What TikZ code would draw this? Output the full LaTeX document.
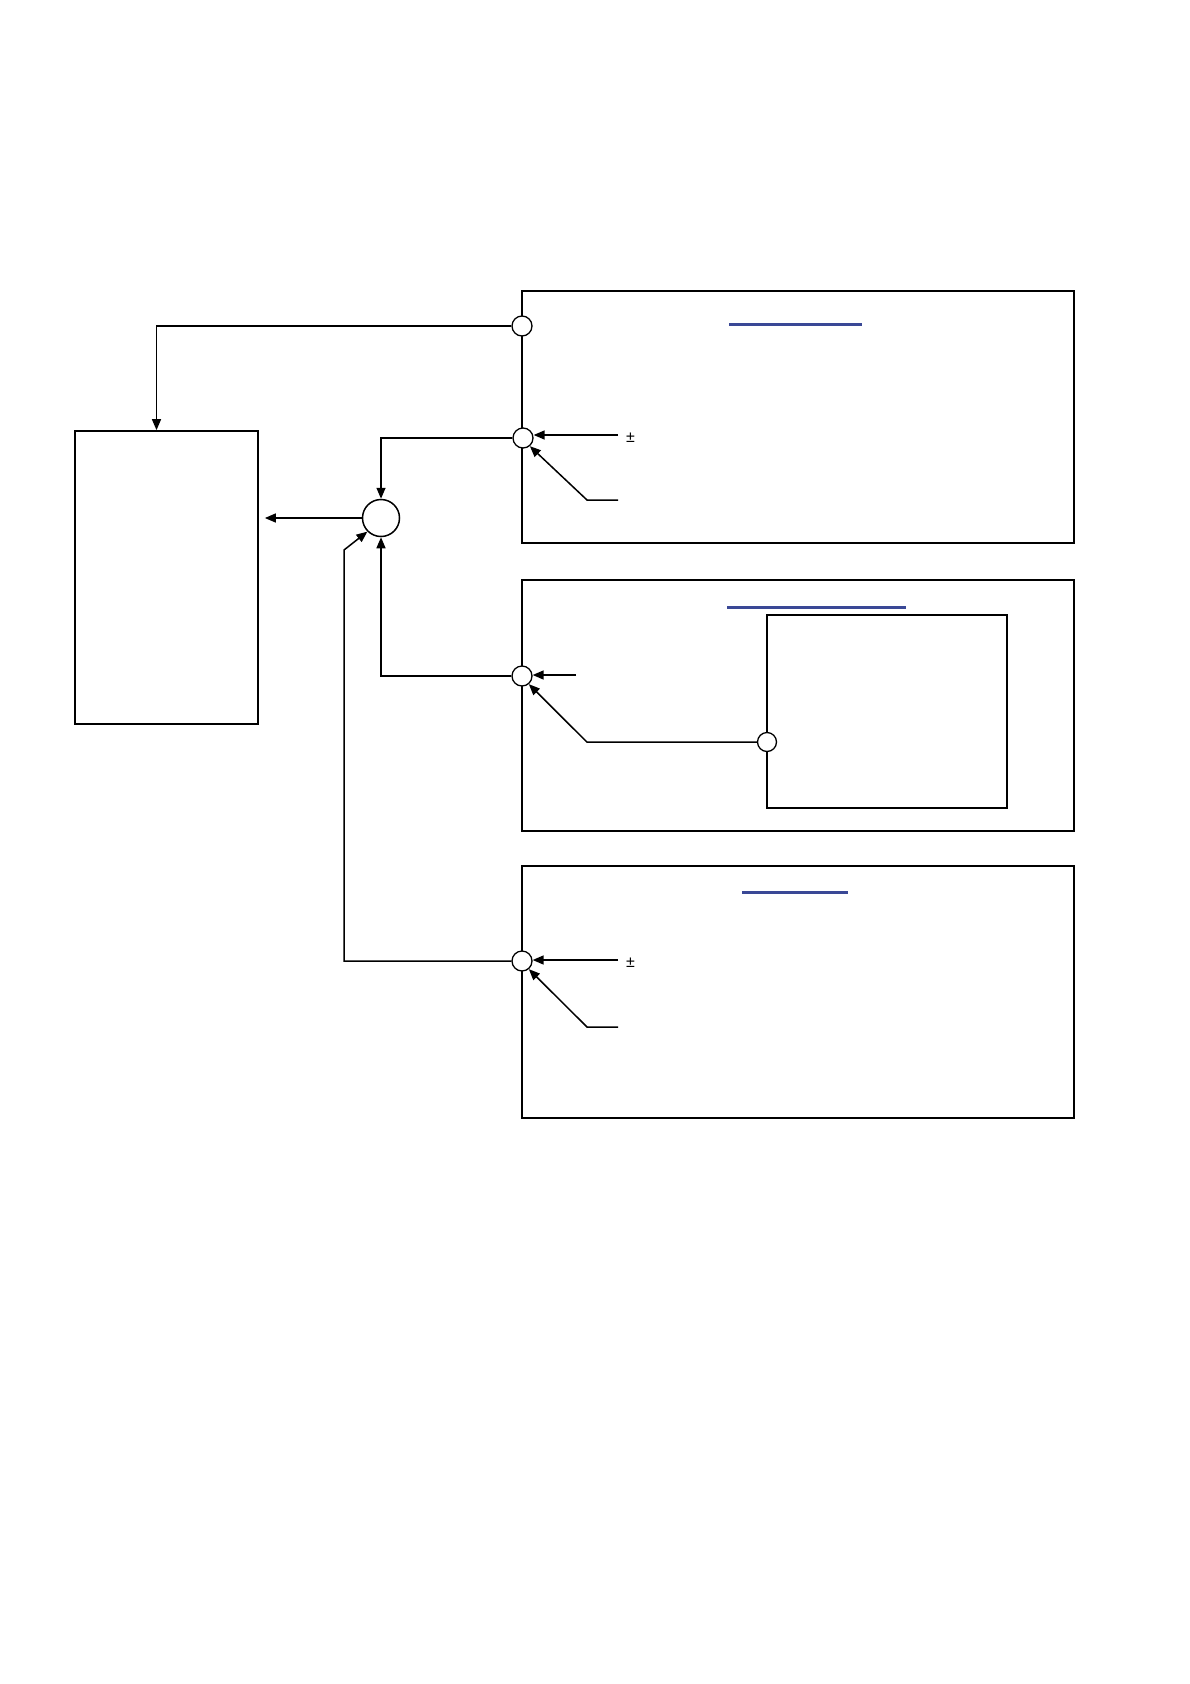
\documentclass[tikz,border=0pt]{standalone}
\usepackage{fontspec}
\newfontfamily\labelfont{Liberation Sans}
\usetikzlibrary{arrows.meta,positioning,calc}
\definecolor{linkblue}{RGB}{58,72,150}
\tikzset{
  blockbox/.style={draw, line width=1.7pt, rectangle, inner sep=0pt},
  port/.style={draw, circle, fill=white, line width=1.3pt, inner sep=0pt, minimum size=20pt},
  sumjunction/.style={draw, circle, fill=white, line width=1.5pt, inner sep=0pt, minimum size=37pt},
  sigarrow/.style={-{Triangle[length=11pt,width=9pt]}, line width=1.5pt},
  titlebar/.style={linkblue, line width=3pt},
  pmlabel/.style={font=\labelfont\fontsize{16}{18}\selectfont, inner sep=0pt}
}
\begin{document}
\begin{tikzpicture}[x=1pt, y=-1pt, line cap=butt, line join=miter]
  \useasboundingbox (0,0) rectangle (1190,1684);

  % Blocks
  \node[blockbox, minimum width=183pt, minimum height=293pt] (tgt) at (166.5, 577.5) {};
  \node[blockbox, minimum width=552pt, minimum height=252pt] (modA) at (798, 417) {};
  \node[blockbox, minimum width=552pt, minimum height=251pt] (modB) at (798, 705.5) {};
  \node[blockbox, minimum width=552pt, minimum height=252pt] (modC) at (798, 992) {};
  \node[blockbox, line width=1.3pt, minimum width=240pt, minimum height=193pt] (inner) at (887, 711.5) {};

  % Title bars
  \draw[titlebar] (729, 324) -- (862, 324);
  \draw[titlebar] (727, 607) -- (906, 607);
  \draw[titlebar] (742, 892) -- (848, 892);

  % Ports and summing junction
  \node[port] (pA1) at (522, 326) {};
  \node[port] (pA2) at (523, 438) {};
  \node[port] (pB) at (522, 676) {};
  \node[port] (pC) at (522, 961) {};
  \node[port, minimum size=19pt] (q) at (767, 742) {};
  \node[sumjunction] (sum) at (381, 518) {};

  % Free ends of the input lines
  \coordinate (uA) at (618, 435);
  \coordinate (wA) at (618, 500);
  \coordinate (uB) at (576, 675);
  \coordinate (uC) at (618, 960);
  \coordinate (wC) at (618, 1027);
  \coordinate (pCbend) at (344, 550);

  % Connections to the target block
  \draw[sigarrow] (pA1.west) -| ([xshift=-10pt]tgt.north);
  \draw[sigarrow, shorten >=6pt] (sum.west) -- (sum.west -| tgt.east);
  \draw[sigarrow] (pA2.west) -| (sum.north);
  \draw[sigarrow] (pB.west) -| (sum.south);
  \draw[sigarrow] (pC.west) -| (pCbend) -- (sum.225);

  % Inputs of the ports
  \draw[sigarrow] (uA) -- (uA -| pA2.east);
  \draw[sigarrow] (wA) -- ++(-31, 0) -- (pA2.-50);
  \draw[sigarrow] (uB) -- (uB -| pB.east);
  \draw[sigarrow] (q.west) -- ++(-170, 0) -- (pB.-50);
  \draw[sigarrow] (uC) -- (uC -| pC.east);
  \draw[sigarrow] (wC) -- ++(-31, 0) -- (pC.-50);

  % Labels
  \node[pmlabel, right=8pt of uA, yshift=-3pt] (pmA) {±};
  \node[pmlabel, right=8pt of uC, yshift=-3pt] (pmC) {±};
\end{tikzpicture}
\end{document}
